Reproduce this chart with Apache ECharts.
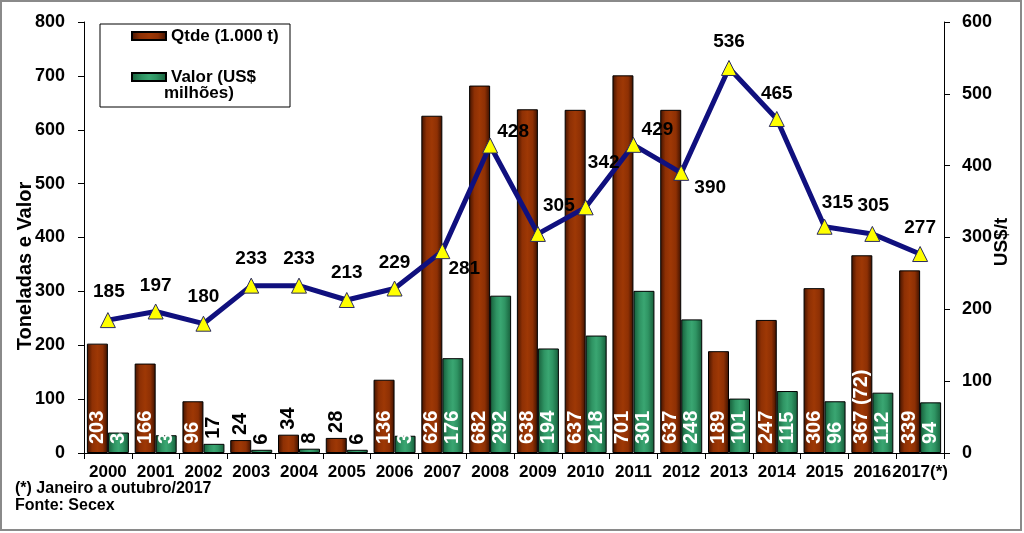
<!DOCTYPE html>
<html>
<head>
<meta charset="utf-8">
<script src="https://cdn.jsdelivr.net/npm/echarts@6/dist/echarts.min.js"></script>
<style>
html,body{margin:0;padding:0;background:#fff;}
#c{width:1024px;height:533px;}
</style>
</head>
<body>
<div id="c"></div>
<script>
const categories = ['2000','2001','2002','2003','2004','2005','2006','2007','2008','2009','2010','2011','2012','2013','2014','2015','2016','2017(*)'];
const qtde = [203,166,96,24,34,28,136,626,682,638,637,701,637,189,247,306,367,339];
const qtdeLabels = ['203','166','96','24','34','28','136','626','682','638','637','701','637','189','247','306','367 (72)','339'];
const valor = [38,33,17,6,8,6,32,176,292,194,218,301,248,101,115,96,112,94];
const preco = [185,197,180,233,233,213,229,281,428,305,342,429,390,536,465,315,305,277];
const leftTicks = {min:0, max:800, interval:100};
const rightTicks = {min:0, max:600, interval:100};
const leftAxisName = 'Toneladas e Valor';
const rightAxisName = 'US$/t';

// label placement (style), not data
const lineLabelOffsets = [[1,-28],[0,-26],[0,-27],[0,-27],[0,-27],[0,-27],[0,-26],[22,18],[23,-14],[21,-28],[18,-45],[24,-15],[29,15],[0,-26],[0,-25],[13,-24],[1,-28],[0,-26]];
const SMALL = 40;

const FONT = 'Liberation Sans, Arial, sans-serif';

const redGrad = new echarts.graphic.LinearGradient(0,0,1,0,[
  {offset:0,color:'#3f1200'},{offset:0.25,color:'#8e3004'},{offset:0.5,color:'#9e3805'},{offset:0.75,color:'#8e3004'},{offset:1,color:'#3a1000'}]);
const greenGrad = new echarts.graphic.LinearGradient(0,0,1,0,[
  {offset:0,color:'#165c39'},{offset:0.3,color:'#2f9463'},{offset:0.5,color:'#3aa672'},{offset:0.7,color:'#2f9463'},{offset:1,color:'#165c39'}]);

const smallBlack = {position:'top', color:'#000', distance:5};
const qtdeData = qtde.map((v,i)=>{
  const it = {value:v};
  if (v < SMALL) it.label = smallBlack;
  return it;
});
const valorData = valor.map((v,i)=>{
  const it = {value:v};
  if (v < 30) it.label = smallBlack;
  return it;
});
const precoData = preco.map((v,i)=>({value:v, label:{offset:lineLabelOffsets[i]}}));

const barLabel = {
  show:true, position:'insideBottom', rotate:90, align:'left', verticalAlign:'middle',
  distance:9, color:'#fff', fontFamily:FONT, fontWeight:'bold', fontSize:20
};

const chart = echarts.init(document.getElementById('c'), null, {renderer:'canvas'});
chart.setOption({
  animation:false,
  backgroundColor:'#fff',
  textStyle:{fontFamily:FONT},
  grid:{left:84, right:80, top:22, bottom:80, containLabel:false},
  legend:{
    orient:'vertical', left:126, top:21, itemWidth:34, itemHeight:8, itemGap:21,
    icon:'rect', selectedMode:false,
    data:['Qtde (1.000 t)','Valor (US$ milhões)'],
    formatter: n => n === 'Valor (US$ milhões)' ? 'Valor (US$' : n,
    textStyle:{fontFamily:FONT, fontWeight:'bold', fontSize:17, color:'#000', lineHeight:20}
  },
  xAxis:{
    type:'category', data:categories,
    axisLine:{lineStyle:{color:'#000', width:1}},
    axisTick:{show:true, alignWithLabel:false, length:6, lineStyle:{color:'#000'}},
    axisLabel:{interval:0, hideOverlap:false, margin:11, color:'#000', fontFamily:FONT, fontWeight:'bold', fontSize:17},
    splitLine:{show:false}
  },
  yAxis:[{
    type:'value', min:leftTicks.min, max:leftTicks.max, interval:leftTicks.interval,
    axisLine:{show:true, lineStyle:{color:'#000'}},
    axisTick:{show:true, length:6, lineStyle:{color:'#000'}},
    axisLabel:{margin:19, color:'#000', fontFamily:FONT, fontWeight:'bold', fontSize:18},
    splitLine:{show:false}
  },{
    type:'value', position:'right', min:rightTicks.min, max:rightTicks.max, interval:rightTicks.interval,
    axisLine:{show:true, lineStyle:{color:'#000'}},
    axisTick:{show:true, length:6, lineStyle:{color:'#000'}},
    axisLabel:{margin:18, color:'#000', fontFamily:FONT, fontWeight:'bold', fontSize:18},
    splitLine:{show:false}
  }],
  series:[{
    name:'Qtde (1.000 t)', type:'bar', yAxisIndex:0, data:qtdeData,
    barWidth:21, barGap:'0%',
    itemStyle:{color:redGrad, borderColor:'#000', borderWidth:1},
    label:Object.assign({}, barLabel, {formatter:p=>qtdeLabels[p.dataIndex]}),
    z:2
  },{
    name:'Valor (US$ milhões)', type:'bar', yAxisIndex:0, data:valorData,
    barWidth:21, barGap:'0%',
    itemStyle:{color:greenGrad, borderColor:'#000', borderWidth:1},
    label:barLabel,
    z:2
  },{
    name:'US$/t', type:'line', yAxisIndex:1, data:precoData,
    lineStyle:{color:'#10107e', width:5},
    symbol:'triangle', symbolSize:15,
    itemStyle:{color:'#ffff00', borderColor:'#2a2a60', borderWidth:1},
    label:{show:true, position:'inside', color:'#000', fontFamily:FONT, fontWeight:'bold', fontSize:19},
    z:5
  }],
  graphic:[
    {type:'rect', shape:{x:1, y:1, width:1020, height:529}, style:{fill:'none', stroke:'#8a8a8a', lineWidth:2}, z:0, silent:true},
    {type:'rect', shape:{x:100, y:24, width:190, height:83}, style:{fill:'#fff', stroke:'#000', lineWidth:1}, z:-1, silent:true},
    {type:'text', left:164, top:85, style:{text:'milhões)', fill:'#000', font:'bold 17px ' + FONT}, z:10, silent:true},
    {type:'text', x:25, y:266, rotation:Math.PI/2, style:{text:leftAxisName, fill:'#000', font:'bold 20px ' + FONT, align:'center', verticalAlign:'middle'}, silent:true},
    {type:'text', x:1002, y:242, rotation:Math.PI/2, style:{text:rightAxisName, fill:'#000', font:'bold 19px ' + FONT, align:'center', verticalAlign:'middle'}, silent:true},
    {type:'text', left:15, top:481, style:{text:'(*) Janeiro a outubro/2017', fill:'#000', font:'bold 16px ' + FONT}, silent:true},
    {type:'text', left:15, top:498, style:{text:'Fonte: Secex', fill:'#000', font:'bold 16px ' + FONT}, silent:true}
  ]
});
</script>
</body>
</html>
